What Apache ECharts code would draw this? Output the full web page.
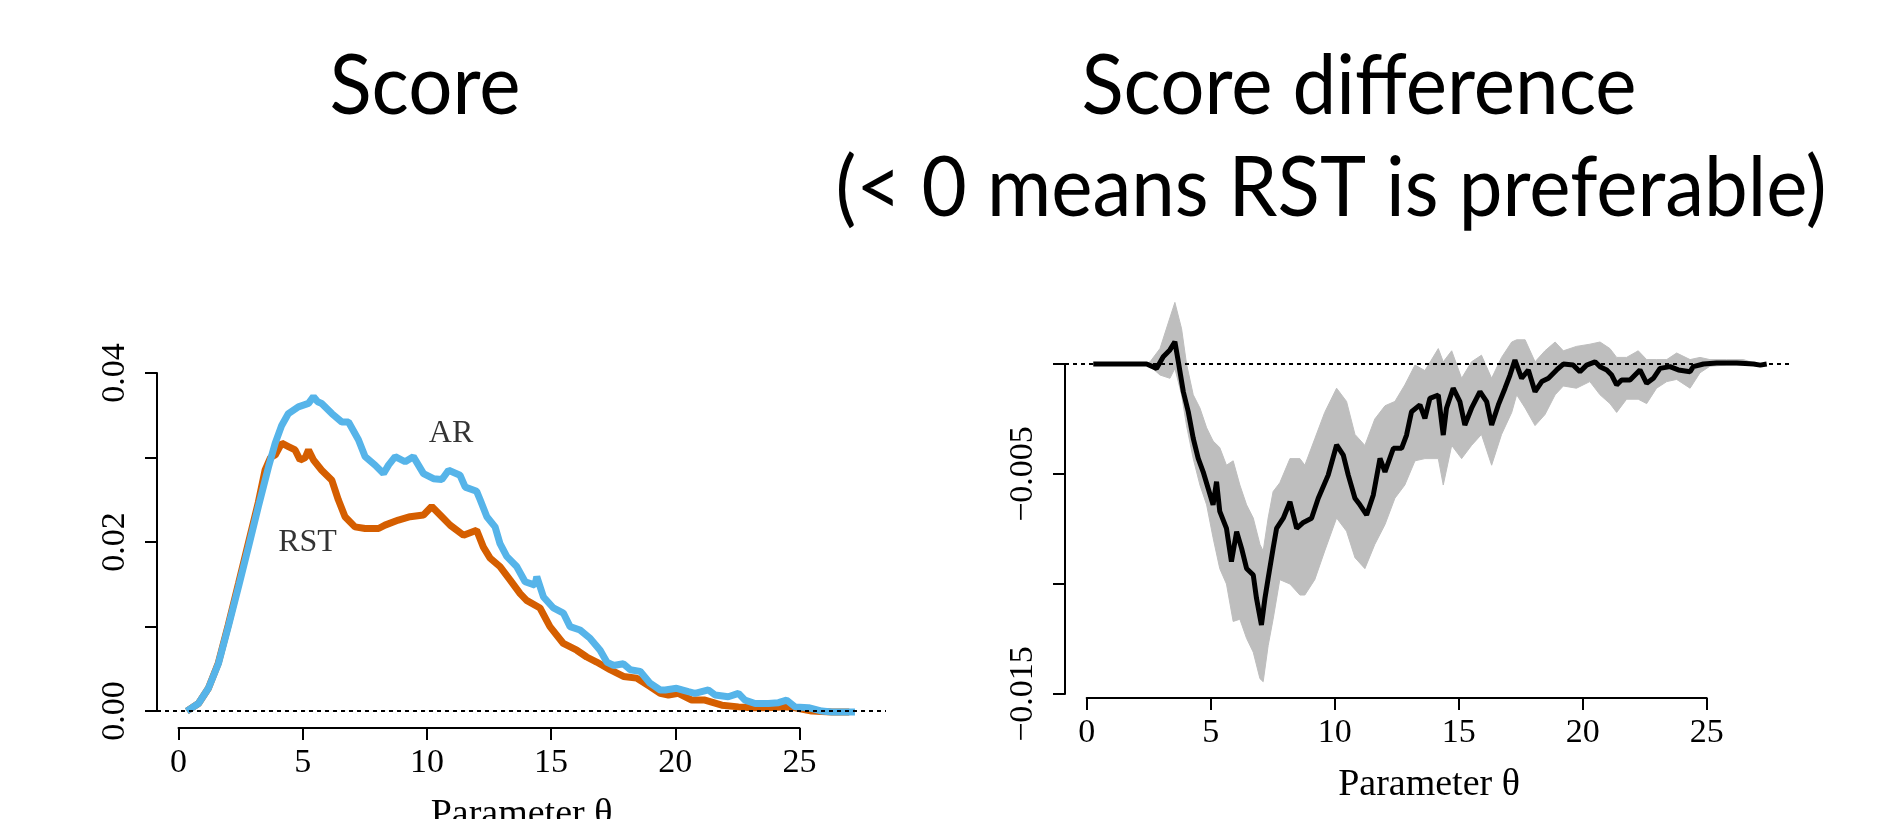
<!DOCTYPE html>
<html>
<head>
<meta charset="utf-8">
<script src="https://cdn.jsdelivr.net/npm/echarts@6/dist/echarts.min.js"></script>
<style>
html,body{margin:0;padding:0;background:#fff;}
#chart{width:1894px;height:819px;}
</style>
</head>
<body>
<div id="chart"></div>
<script>
// ---------- DATA ----------
const xTicks = [0, 5, 10, 15, 20, 25];

// Left panel: score curves
const arX = [0.33,0.8,1.2,1.6,2.0,2.41,2.81,3.21,3.62,3.89,4.15,4.42,4.82,5.23,5.43,5.6,5.76,6.17,6.57,6.84,7.24,7.51,7.91,8.25,8.45,8.72,9.12,9.45,9.86,10.26,10.6,10.87,11.33,11.54,12.0,12.14,12.41,12.74,12.94,13.21,13.61,13.95,14.35,14.42,14.69,15.09,15.49,15.76,16.16,16.57,16.97,17.24,17.51,17.91,18.18,18.58,18.98,19.39,19.59,20.05,20.52,20.79,21.33,21.6,22.13,22.54,22.8,23.21,23.74,24.15,24.48,24.82,25.36,25.9,26.3,27.23];
const arY = [0,0.0009,0.0027,0.0056,0.0100,0.0147,0.0194,0.0242,0.0289,0.0317,0.0338,0.0352,0.0360,0.0364,0.0372,0.0366,0.0364,0.0352,0.0342,0.0342,0.0321,0.0301,0.0291,0.0281,0.0291,0.0301,0.0295,0.0301,0.0281,0.0275,0.0274,0.0285,0.0279,0.0265,0.0260,0.0250,0.0230,0.0218,0.0198,0.0183,0.0171,0.0153,0.0149,0.0159,0.0135,0.0122,0.0116,0.0100,0.0096,0.0086,0.0072,0.0058,0.0054,0.0056,0.0049,0.0047,0.0033,0.0025,0.0025,0.0027,0.0023,0.0021,0.0025,0.0019,0.0017,0.0021,0.0013,0.0009,0.0009,0.0010,0.0013,0.0005,0.0004,0.0000,-0.0001,-0.0001];

const rstX = [0.33,0.8,1.2,1.6,2.0,2.41,2.81,3.21,3.48,3.7,3.89,4.15,4.42,4.69,4.89,5.1,5.23,5.43,5.76,6.17,6.43,6.7,7.1,7.51,8.05,8.31,8.85,9.32,9.86,10.19,10.53,10.93,11.47,12.0,12.27,12.54,12.94,13.35,13.75,14.01,14.55,14.95,15.49,16.03,16.43,16.83,17.37,17.91,18.44,18.98,19.39,19.72,20.12,20.66,21.19,21.87,22.54,23.07,23.74,24.41,24.82,25.49,26.3,27.0];
const rstY = [0,0.0009,0.0027,0.0057,0.0102,0.0151,0.0199,0.0247,0.0285,0.0300,0.0303,0.0317,0.0313,0.0309,0.0297,0.0300,0.0309,0.0297,0.0285,0.0273,0.0250,0.0230,0.0218,0.0216,0.0216,0.0220,0.0226,0.0230,0.0232,0.0242,0.0232,0.0220,0.0208,0.0214,0.0194,0.0181,0.0171,0.0155,0.0139,0.0131,0.0122,0.0100,0.0080,0.0072,0.0064,0.0058,0.0049,0.0041,0.0039,0.0029,0.0021,0.0019,0.0021,0.0013,0.0013,0.0007,0.0005,0.0004,0.0004,0.0005,0.0004,0.0000,-0.0001,-0.0001];

const labelNames = ['AR', 'RST'];
const labelX = [10.97, 5.19];
const labelY = [0.03278, 0.01994];

// Right panel: score difference and its band
const diffX = [0.27,2.42,2.82,3.09,3.36,3.56,3.7,3.9,4.1,4.3,4.5,4.7,4.9,5.1,5.24,5.37,5.64,5.84,6.05,6.25,6.45,6.72,6.85,7.05,7.19,7.32,7.52,7.66,7.93,8.2,8.47,8.74,9.07,9.34,9.74,10.08,10.35,10.55,10.82,11.02,11.29,11.56,11.83,12.03,12.37,12.7,12.9,13.1,13.44,13.64,13.84,14.18,14.38,14.51,14.78,15.05,15.25,15.52,15.86,16.13,16.33,16.6,16.87,17.07,17.27,17.54,17.81,18.08,18.35,18.62,18.95,19.22,19.62,19.89,20.16,20.5,20.7,20.97,21.17,21.37,21.57,21.91,22.11,22.31,22.58,22.85,23.12,23.52,23.86,24.33,24.46,24.87,25.4,26.21,26.89,27.16,27.42];
const diffY = [0,0,-0.0002,0.00033,0.00064,0.00101,0.0001,-0.00126,-0.00217,-0.00338,-0.00429,-0.0049,-0.00565,-0.0064,-0.00535,-0.0067,-0.00747,-0.00898,-0.00762,-0.00838,-0.00929,-0.00959,-0.01065,-0.01186,-0.01065,-0.00974,-0.00838,-0.00747,-0.00701,-0.00626,-0.00747,-0.0072,-0.00701,-0.0061,-0.00505,-0.00368,-0.00414,-0.00505,-0.0061,-0.0064,-0.00686,-0.00595,-0.00429,-0.0049,-0.00383,-0.00383,-0.00323,-0.00217,-0.00186,-0.00247,-0.00156,-0.00141,-0.00323,-0.00201,-0.0011,-0.00171,-0.00277,-0.00201,-0.00126,-0.00171,-0.00277,-0.00186,-0.0011,-0.0005,0.00018,-0.00065,-0.00027,-0.00126,-0.0008,-0.00065,-0.00027,0.0,-0.00005,-0.00035,-0.00005,0.0001,-0.00012,-0.00027,-0.0005,-0.00095,-0.00073,-0.00073,-0.0005,-0.00027,-0.00088,-0.00065,-0.0002,-0.00012,-0.00027,-0.00035,-0.00012,0.0,0.00005,0.00005,0.0,-0.00005,0.0];

const bandX  = [0.27,2.4,2.56,2.96,3.36,3.56,3.83,4.03,4.3,4.57,4.84,5.1,5.37,5.64,5.91,6.18,6.45,6.72,6.99,7.12,7.32,7.52,7.79,8.2,8.6,8.8,9.2,9.6,10.08,10.48,10.82,11.22,11.62,12.03,12.43,12.83,13.24,13.64,14.18,14.38,14.72,15.12,15.52,15.92,16.33,16.73,17.14,17.34,17.68,18.08,18.48,18.89,19.22,19.75,20.29,20.7,21.1,21.37,21.77,22.24,22.58,22.98,23.39,23.79,24.33,24.73,25.13,25.8,26.48,27.02];
const bandLo = [0,0,-0.0001,-0.0005,-0.00065,-0.0002,-0.0014,-0.0028,-0.0043,-0.0055,-0.0064,-0.0079,-0.0093,-0.0100,-0.0117,-0.0116,-0.01247,-0.0131,-0.0143,-0.01444,-0.0128,-0.0116,-0.0098,-0.0100,-0.0105,-0.0105,-0.0098,-0.0085,-0.0070,-0.0076,-0.0088,-0.0093,-0.0082,-0.0073,-0.0061,-0.0055,-0.0044,-0.0043,-0.0043,-0.0055,-0.0037,-0.0043,-0.0037,-0.0032,-0.0046,-0.0032,-0.0022,-0.0014,-0.0020,-0.0028,-0.0023,-0.0014,-0.0010,-0.0011,-0.0008,-0.0014,-0.0018,-0.0022,-0.0016,-0.0016,-0.0018,-0.0011,-0.0008,-0.0007,-0.0011,-0.0004,-0.0001,-0.00005,-0.00005,0];
const bandHi = [0,0,0.0001,0.0007,0.0021,0.0028,0.0016,0.0,-0.0014,-0.0020,-0.0029,-0.0035,-0.0038,-0.0046,-0.0044,-0.0055,-0.0064,-0.0070,-0.0082,-0.0085,-0.0070,-0.0058,-0.0054,-0.0043,-0.0043,-0.0046,-0.0034,-0.0022,-0.0011,-0.0017,-0.0032,-0.0037,-0.0025,-0.0019,-0.0017,-0.00095,-0.00005,-0.0003,0.0007,0.0001,0.0006,-0.00065,0.0001,0.0004,-0.00065,0.0003,0.0010,0.0011,0.0011,0.0001,0.0006,0.0010,0.0006,0.0008,0.0009,0.0010,0.0007,0.0003,0.0003,0.0006,0.0002,0.0002,0.0002,0.0005,0.0002,0.0003,0.0002,0.0002,0.0002,0];

// ---------- BUILD ----------
const pairs = (xs, ys) => xs.map((x, i) => [x, ys[i]]);
const serif = 'Liberation Serif';
const black = '#000';
const XMIN = -0.87, XMAX = 28.48;

const tickStyle = {show: true, length: 12, lineStyle: {color: black, width: 2}};
const axLine = {show: true, onZero: false, lineStyle: {color: black, width: 2}};

const hiddenY = (g, min, max) => ({gridIndex: g, type: 'value', min: min, max: max, show: false});

function dataX(g) {  // full plot-region axis: only carries the axis title
  return {
    gridIndex: g, type: 'value', min: XMIN, max: XMAX,
    axisLine: {show: false, onZero: false}, axisTick: {show: false}, axisLabel: {show: false},
    splitLine: {show: false},
    name: 'Parameter θ', nameLocation: 'middle', nameGap: 68,
    nameTextStyle: {fontFamily: serif, fontSize: 38, color: black}
  };
}
function dispX(g) {  // R-style axis spanning the ticks only
  return {
    gridIndex: g, type: 'value', min: xTicks[0], max: xTicks[xTicks.length - 1], interval: 5,
    axisLine: axLine, axisTick: tickStyle, splitLine: {show: false},
    axisLabel: {fontFamily: serif, fontSize: 34, color: black, margin: 18}
  };
}
const blankX = g => ({gridIndex: g, type: 'value', min: 0, max: 1, show: false});

function bandRender(params, api) {
  if (params.dataIndex !== 0) return null;
  const pts = [];
  for (let i = 0; i < bandX.length; i++) pts.push(api.coord([bandX[i], bandHi[i]]));
  for (let i = bandX.length - 1; i >= 0; i--) pts.push(api.coord([bandX[i], bandLo[i]]));
  return {type: 'polygon', shape: {points: pts}, style: {fill: '#BEBEBE', stroke: '#BEBEBE', lineWidth: 1}};
}

function titleText(text, x, y) {
  return {type: 'text', x: x, y: y, scaleX: 0.93, scaleY: 1,
    style: {text: text, x: 0, y: 0, font: '84px Lato', fill: black,
      textAlign: 'center', textVerticalAlign: 'middle', align: 'center', verticalAlign: 'middle'}};
}

const G = o => Object.assign({containLabel: false, outerBoundsMode: 'none'}, o);

const option = {
  backgroundColor: '#fff',
  animation: false,
  grid: [
    G({left: 157, width: 729, top: 373, bottom: 91}),      // 0 left data
    G({left: 178.5, width: 621, top: 373, bottom: 91}),    // 1 left x axis
    G({left: 157, width: 20, top: 373, bottom: 108}),      // 2 left y axis
    G({left: 1065, width: 728, top: 298, bottom: 121}),    // 3 right data
    G({left: 1086.7, width: 620, top: 298, bottom: 121}),  // 4 right x axis
    G({left: 1065, width: 20, top: 364, bottom: 125})      // 5 right y axis
  ],
  xAxis: [dataX(0), dispX(1), blankX(2), dataX(3), dispX(4), blankX(5)],
  yAxis: [
    hiddenY(0, -0.002, 0.04),
    hiddenY(1, 0, 1),
    {gridIndex: 2, type: 'value', min: 0, max: 0.04, interval: 0.01,
     axisLine: axLine, axisTick: tickStyle, splitLine: {show: false},
     axisLabel: {fontFamily: serif, fontSize: 34, color: black, rotate: 90, margin: 25,
       formatter: v => (Math.round(v * 100) % 2 === 0 ? v.toFixed(2) : '')}},
    hiddenY(3, -0.01518, 0.003),
    hiddenY(4, 0, 1),
    {gridIndex: 5, type: 'value', min: -0.015, max: 0, interval: 0.005,
     axisLine: axLine, axisTick: tickStyle, splitLine: {show: false},
     axisLabel: {fontFamily: serif, fontSize: 34, color: black, rotate: 90, margin: 25,
       formatter: v => { const k = Math.round(v * 1000); return (k === -5 || k === -15) ? '\u2212' + Math.abs(v).toFixed(3) : ''; }}}
  ],
  series: [
    {type: 'line', xAxisIndex: 0, yAxisIndex: 0, data: pairs(rstX, rstY), showSymbol: false,
     lineStyle: {color: '#D55E00', width: 7}, z: 2},
    {type: 'line', xAxisIndex: 0, yAxisIndex: 0, data: pairs(arX, arY), showSymbol: false,
     lineStyle: {color: '#56B4E9', width: 7}, z: 3,
     markLine: {silent: true, symbol: 'none', label: {show: false},
       lineStyle: {color: black, width: 2, type: [4, 4]}, data: [{yAxis: 0}]}},
    {type: 'scatter', xAxisIndex: 0, yAxisIndex: 0, symbolSize: 1,
     itemStyle: {color: 'rgba(0,0,0,0)'},
     data: labelNames.map((n, i) => ({name: n, value: [labelX[i], labelY[i]]})),
     label: {show: true, position: 'inside', formatter: p => p.name,
       fontFamily: serif, fontSize: 32, color: black}, z: 5},
    {type: 'custom', xAxisIndex: 3, yAxisIndex: 3,
     data: bandX.map((x, i) => [x, bandLo[i], bandHi[i]]),
     encode: {x: 0, y: [1, 2]}, renderItem: bandRender, z: 1},
    {type: 'line', xAxisIndex: 3, yAxisIndex: 3, data: pairs(diffX, diffY), showSymbol: false,
     lineStyle: {color: black, width: 5}, z: 3,
     markLine: {silent: true, symbol: 'none', label: {show: false},
       lineStyle: {color: black, width: 2, type: [4, 4]}, data: [{yAxis: 0}]}}
  ],
  graphic: [
    titleText('Score', 425, 87),
    titleText('Score difference', 1359, 87),
    titleText('(< 0 means RST is preferable)', 1331, 189)
  ]
};

const chart = echarts.init(document.getElementById('chart'));
chart.setOption(option);
</script>
</body>
</html>
